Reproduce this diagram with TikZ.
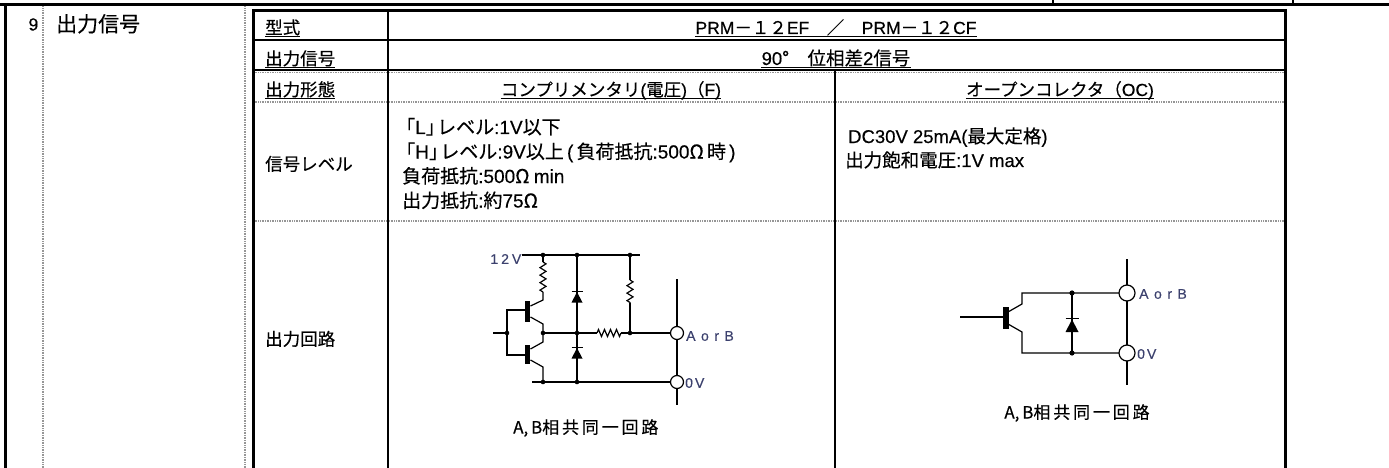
\documentclass[tikz,border=0pt]{standalone}
\usepackage{fontspec}
\setmainfont{Noto Sans CJK JP}[FakeBold=0.3]
\newfontfamily\labfont{Liberation Sans}[FakeBold=0.3]
\newcommand{\ltn}[1]{{\labfont #1}}
\usetikzlibrary{decorations.pathmorphing}
\definecolor{labcol}{RGB}{60,65,110}
\definecolor{dotgray}{RGB}{150,150,150}
\begin{document}
\begin{tikzpicture}[x=1pt,y=-1pt,
  txt/.style={inner sep=0pt, font=\fontsize{17.5}{20}\selectfont, text height=15pt, text depth=2pt},
  body/.style={inner sep=0pt, font=\fontsize{19}{21}\selectfont, text height=16pt, text depth=2pt},
  big/.style={inner sep=0pt, font=\fontsize{21}{24}\selectfont, text height=18pt, text depth=2.5pt},
  lab/.style={inner sep=0pt, text=labcol, font=\labfont\fontsize{14}{15}\selectfont},
  frame/.style={line width=3pt},
  rowsolid/.style={line width=2pt},
  colline/.style={line width=2.5pt},
  dotl/.style={draw=dotgray, line width=1.6pt, dash pattern=on 1pt off 0.7pt},
  ulin/.style={line width=1pt},
  wire/.style={line width=1.2pt},
  res/.style={decorate, decoration={zigzag, segment length=7.5pt, amplitude=3pt}},
  hres/.style={decorate, decoration={zigzag, segment length=6pt, amplitude=3.5pt}},
  term/.style={line width=1.2pt, fill=white},
  diodeup/.pic={\fill (-5.5,6) -- (5.5,6) -- (0,-4.5) -- cycle; \draw[line width=1.6pt] (-5.5,-5) -- (5.5,-5);},
  bigdiode/.pic={\fill (-6.5,7) -- (6.5,7) -- (0,-5.5) -- cycle; \draw[line width=1.8pt] (-6.5,-6.5) -- (6.5,-6.5);}
]
\useasboundingbox (0,0) rectangle (1389,468);
\fill[white] (0,0) rectangle (1389,468);

% ---------------- outer frame ----------------
\draw[frame] (0,5) -- (1389,5);
\draw[line width=2pt] (1053,0) -- (1053,5);
\draw[line width=2pt] (1293,0) -- (1293,5);
\draw[frame] (5,3.5) -- (5,468);
\draw[dotl] (43,6.5) -- (43,468);
\draw[dotl] (245,6.5) -- (245,468);

% ---------------- inner table ----------------
\draw[rowsolid] (253,40) -- (1285,40);
\draw[rowsolid] (253,70) -- (1285,70);
\draw[dotl] (253,72.5) -- (1285,72.5);
\draw[dotl] (253,102) -- (1285,102);
\draw[dotl] (253,221) -- (1285,221);
\draw[colline] (388,11) -- (388,468);
\draw[colline] (835,71) -- (835,468);
\draw[frame] (253,468) -- (253,11) -- (1285,11) -- (1285,468);

% ---------------- left labels ----------------
\node[txt, anchor=east] (num) at (38.5,24) {\ltn{9}};
\node[big, anchor=west] (item) at (56,24) {出力信号};

% ---------------- header rows ----------------
\node[txt, anchor=base west] (h1) at (265,34) {型式};
\draw[ulin] ([yshift=-3pt]h1.base west) -- ([yshift=-3pt]h1.base east);
\node[txt, anchor=base] (v1) at (836,34) {\ltn{PRM}－１２\ltn{EF}　／　\ltn{PRM}－１２\ltn{CF}};
\draw[ulin] ([yshift=-3pt]v1.base west) -- ([yshift=-3pt]v1.base east);

\node[txt, anchor=base west] (h2) at (265,65) {出力信号};
\draw[ulin] ([yshift=-3pt]h2.base west) -- ([yshift=-3pt]h2.base east);
\node[txt, anchor=base, font=\fontsize{18.5}{20}\selectfont] (v2) at (836,65) {\ltn{90}°　位相差\ltn{2}信号};
\draw[ulin] ([yshift=-3pt]v2.base west) -- ([yshift=-3pt]v2.base east);

\node[txt, anchor=base west] (h3) at (265,96) {出力形態};
\draw[ulin] ([yshift=-3pt]h3.base west) -- ([yshift=-3pt]h3.base east);
\node[txt, anchor=base] (v3a) at (611,96) {コンプリメンタリ\ltn{(}電圧\ltn{)}（\ltn{F)}};
\draw[ulin] ([yshift=-3pt]v3a.base west) -- ([yshift=-3pt]v3a.base east);
\node[txt, anchor=base] (v3b) at (1060,96) {オープンコレクタ（\ltn{OC)}};
\draw[ulin] ([yshift=-3pt]v3b.base west) -- ([yshift=-3pt]v3b.base east);

% ---------------- signal level row ----------------
\node[txt, anchor=west] (h4) at (265,164) {信号レベル};
\node[body, anchor=west] (l1) at (396,127) {「\ltn{L}」\kern-0.4em レベル\ltn{:1V}以下};
\node[body, anchor=west] (l2) at (396,151.5) {「\ltn{H}」\kern-0.4em レベル\ltn{:9V}以上\,\ltn{(}\,負荷抵抗\ltn{:500}Ω\,時\,\ltn{)}};
\node[body, anchor=west] (l3) at (402,176) {負荷抵抗\ltn{:500}Ω \ltn{min}};
\node[body, anchor=west] (l4) at (402,200.5) {出力抵抗\ltn{:}約\ltn{75}Ω};
\node[body, anchor=west, font=\fontsize{18.5}{20}\selectfont] (r1) at (848,136) {\ltn{DC30V 25mA(}最大定格\ltn{)}};
\node[body, anchor=west, font=\fontsize{18.5}{20}\selectfont] (r2) at (845,160) {出力飽和電圧\ltn{:1V max}};

% ---------------- output circuit row ----------------
\node[txt, anchor=west] (h5) at (265,339) {出力回路};

% ----- complementary circuit -----
\coordinate (vcc) at (522,255);
\coordinate (mid) at (543,333);
\coordinate (gnd) at (543,382);
\coordinate (tA) at (677,333);
\coordinate (t0) at (677,382);
% rails
\draw[wire] (vcc) -- (640,255);
\draw[wire] (532,382) -- (t0);
% R1 and top transistor
\draw[wire] (543,255) -- (543,262);
\draw[wire, res] (543,262) -- (543,292);
\draw[wire] (543,292) -- (543,300) -- (530.5,306);
\fill (524.5,301) rectangle (530,322);
\draw[wire] (530.5,317) -- (543,324) -- (mid);
% bottom transistor
\fill (524.5,345) rectangle (530,364);
\draw[wire] (mid) -- (543,342) -- (530.5,349);
\draw[wire] (530.5,360) -- (543,367) -- (gnd);
% bases and input
\draw[wire] (493,333) -- (507,333);
\draw[wire] (525,310) -- (507,310) -- (507,355) -- (525,355);
% diodes
\draw[wire] (577,255) -- (577,382);
\pic at (577,296.5) {diodeup};
\pic at (577,352.5) {diodeup};
% middle line, R2, R3
\draw[wire] (mid) -- (597,333);
\draw[wire, hres] (597,333) -- (621,333);
\draw[wire] (621,333) -- (tA);
\draw[wire] (630,255) -- (630,280);
\draw[wire, res] (630,280) -- (630,303);
\draw[wire] (630,303) -- (630,333);
% terminals
\draw[wire] (677,279) -- (677,405);
\draw[term] (tA) circle[radius=6.5pt];
\draw[term] (t0) circle[radius=6.5pt];
% junction dots
\foreach \p in {(507,333),(543,255),(577,255),(630,255),(543,333),(577,333),(630,333),(543,382),(577,382)}
  \fill \p circle[radius=2.3pt];
\node[lab, anchor=east] (l12) at (521.5,259) {1\hspace{3pt}2\hspace{3pt}V};
\node[lab, anchor=west] (lAB1) at (686,336) {A\hspace{5.5pt}o\hspace{5.5pt}r\hspace{5.5pt}B};
\node[lab, anchor=west] (l0V1) at (685,383) {0\hspace{2pt}V};
\node[inner sep=0pt, anchor=west, font=\fontsize{17}{20}\selectfont] (cap1) at (513,428) {A,\,B相\,共\,同\,一\,回\,路};

% ----- open collector circuit -----
\coordinate (oA) at (1127,293);
\coordinate (o0) at (1127,353);
\draw[wire] (960,317) -- (1003,317);
\fill (1002.5,307) rectangle (1008.5,329);
\draw[wire] (1008,312) -- (1022,304) -- (1022,293) -- (oA);
\draw[wire] (1008,324) -- (1022,332) -- (1022,353) -- (o0);
\draw[wire] (1072,293) -- (1072,353);
\pic at (1072,325) {bigdiode};
\draw[wire] (1127,259) -- (1127,385);
\draw[term] (oA) circle[radius=8pt];
\draw[term] (o0) circle[radius=8pt];
\foreach \p in {(1072,293),(1072,353)}
  \fill \p circle[radius=2.6pt];
\node[lab, anchor=west] (lAB2) at (1139,294) {A\hspace{5.5pt}o\hspace{5.5pt}r\hspace{5.5pt}B};
\node[lab, anchor=west] (l0V2) at (1137,354) {0\hspace{2pt}V};
\node[inner sep=0pt, anchor=center, font=\fontsize{17}{20}\selectfont] (cap2) at (1077,413) {A,\,B相\,共\,同\,一\,回\,路};
\end{tikzpicture}
\end{document}
